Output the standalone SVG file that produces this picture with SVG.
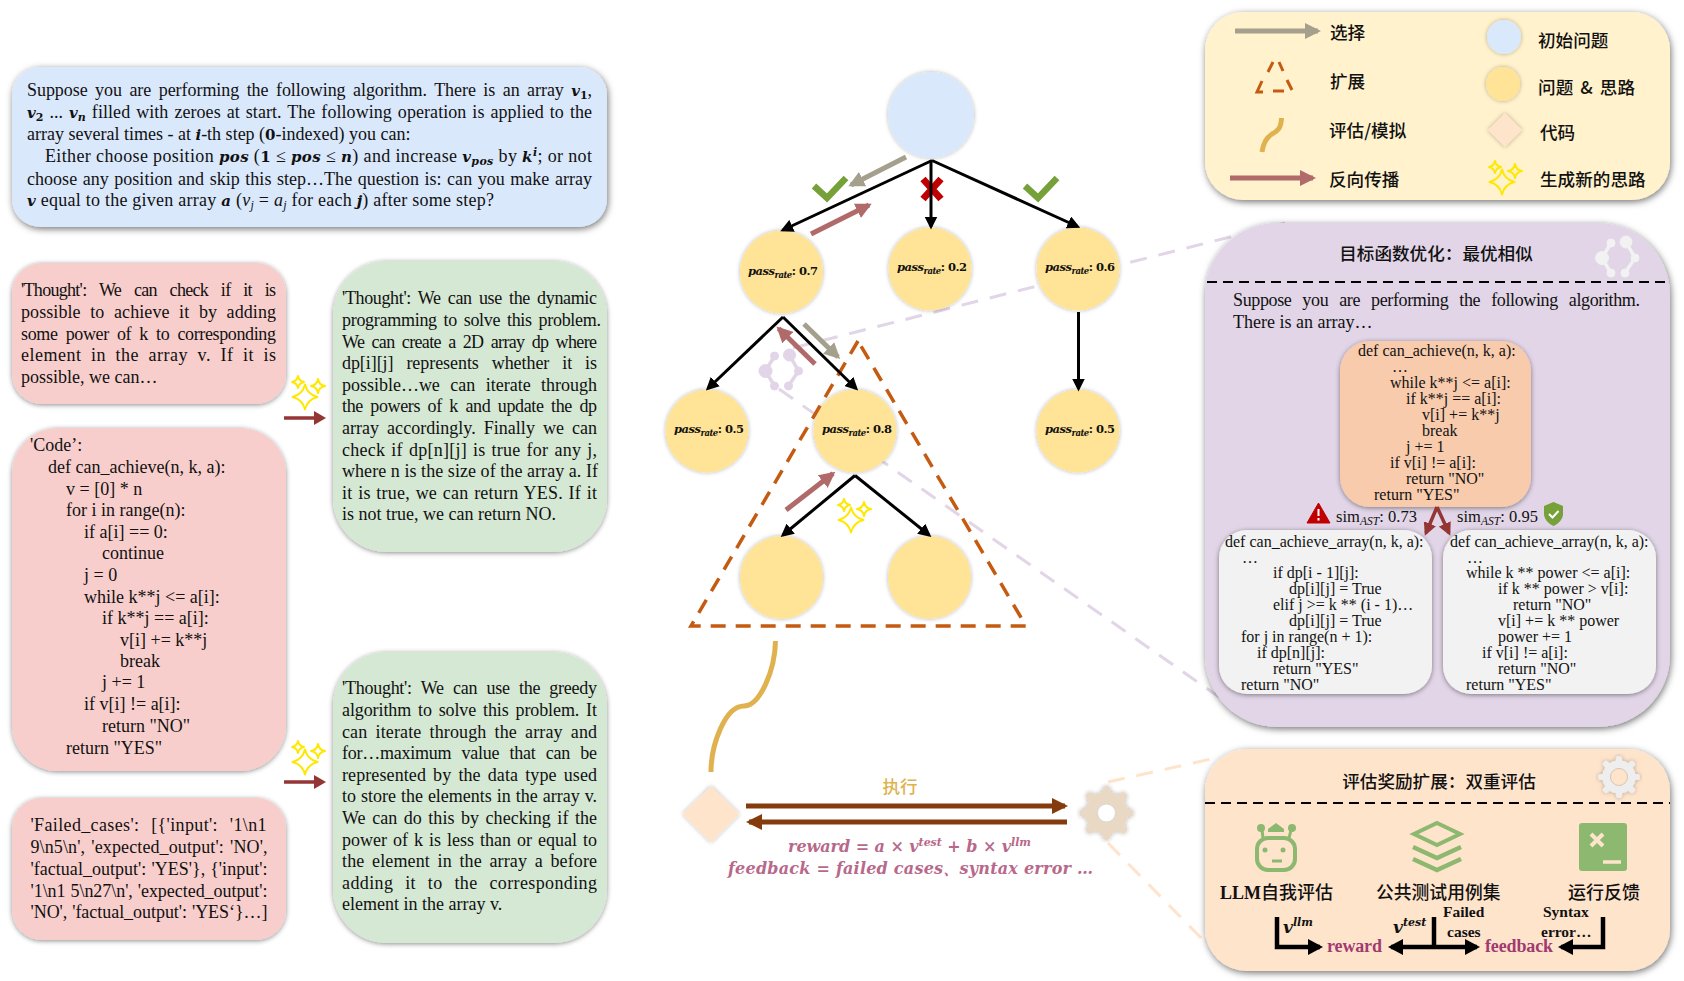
<svg xmlns="http://www.w3.org/2000/svg" xmlns:xlink="http://www.w3.org/1999/xlink" width="1684" height="981" viewBox="0 0 1684 981">
<style>
text{font-family:"Liberation Serif","Noto Sans CJK SC",serif;fill:#111;font-size:18px}
.m{font-family:"DejaVu Serif","Liberation Serif",serif;font-weight:700;font-style:italic;font-size:15px}
.mb{font-family:"DejaVu Serif","Liberation Serif",serif;font-weight:700;font-style:normal;font-size:15px}
.c{font-size:16px}
.cn{font-family:"Noto Sans CJK SC",sans-serif;font-size:17.6px;font-weight:500}
.pass{font-family:"DejaVu Serif",serif;font-weight:700;font-size:11.5px}
.pass .i{font-style:italic}
.pass .s{font-style:italic;font-size:8.5px}
.formula{font-family:"DejaVu Serif",serif;font-weight:700;font-style:italic;font-size:16px;fill:#B8688A}
.pk{font-weight:700;fill:#A03A70;font-size:18px}
.fb{font-weight:700;font-size:15.5px}
.edge{stroke:#000;stroke-width:3;fill:none;marker-end:url(#mBlack)}
.sel{stroke:#A59F8E;stroke-width:5;fill:none;marker-end:url(#mGrey)}
.back{stroke:#B06A6A;stroke-width:5;fill:none;marker-end:url(#mBack)}
.brown{stroke:#843C0C;stroke-width:5;fill:none;marker-end:url(#mBrown)}
.dark{stroke:#943634;stroke-width:3.5;fill:none;marker-end:url(#mDark)}
.flow{stroke:#000;stroke-width:4.5;fill:none;stroke-linejoin:miter;marker-end:url(#mFlow)}
.plain{stroke:#000;stroke-width:4.5;fill:none}
.tri{stroke:#C55A11;stroke-width:3.5;stroke-dasharray:15 10;fill:none}
.pd{stroke:#E1D5E7;stroke-width:3;stroke-dasharray:17 12;fill:none}
.od{stroke:#FFE4CC;stroke-width:3;stroke-dasharray:17 12;fill:none}
.sep{stroke:#000;stroke-width:2;stroke-dasharray:10 6;fill:none}
.curve{stroke:#E0B24F;stroke-width:5;fill:none}
.check{stroke:#76A038;stroke-width:6.5;fill:none}
.star{fill:none;stroke:#FFE800;stroke-width:2;stroke-linejoin:round}
.yes{fill:#FFE396;filter:url(#ns)}
.ic{fill:#8CB870}
.il{fill:none;stroke:#8CB870;stroke-width:4}
</style>
<defs>
<filter id="sh" x="-10%" y="-10%" width="120%" height="125%"><feDropShadow dx="1" dy="2" stdDeviation="3.5" flood-color="#000" flood-opacity=".55"/></filter>
<filter id="ss" x="-15%" y="-15%" width="130%" height="130%"><feDropShadow dx="0" dy="1" stdDeviation="2.5" flood-color="#000" flood-opacity=".45"/></filter>
<filter id="ns" x="-15%" y="-15%" width="130%" height="130%"><feDropShadow dx="0" dy="0" stdDeviation="2" flood-color="#000" flood-opacity=".3"/></filter>
<marker id="mBlack" markerUnits="userSpaceOnUse" markerWidth="13" markerHeight="13" refX="10" refY="6.5" orient="auto"><path d="M0 0L13 6.5L0 13z" fill="#000"/></marker>
<marker id="mGrey" markerUnits="userSpaceOnUse" markerWidth="16" markerHeight="16" refX="13" refY="8" orient="auto"><path d="M0 0L16 8L0 16z" fill="#A59F8E"/></marker>
<marker id="mBack" markerUnits="userSpaceOnUse" markerWidth="16" markerHeight="16" refX="13" refY="8" orient="auto"><path d="M0 0L16 8L0 16z" fill="#B06A6A"/></marker>
<marker id="mBrown" markerUnits="userSpaceOnUse" markerWidth="16" markerHeight="16" refX="13" refY="8" orient="auto"><path d="M0 0L16 8L0 16z" fill="#843C0C"/></marker>
<marker id="mDark" markerUnits="userSpaceOnUse" markerWidth="13" markerHeight="13" refX="10" refY="6.5" orient="auto"><path d="M0 0L13 6.5L0 13z" fill="#943634"/></marker>
<marker id="mFlow" markerUnits="userSpaceOnUse" markerWidth="15" markerHeight="16" refX="12" refY="8" orient="auto"><path d="M0 0L15 8L0 16z" fill="#000"/></marker>
<g id="spark">
<path class="star" d="M0-12.5Q2.5-2.5 12.5 0Q2.5 2.5 0 12.5Q-2.5 2.5-12.5 0Q-2.5-2.5 0-12.5Z"/>
<path class="star" d="M-7-21Q-6-16-1-15Q-6-14-7-9Q-8-14-13-15Q-8-16-7-21Z"/>
<path class="star" d="M13-18Q14-12 20-11Q14-10 13-4Q12-10 6-11Q12-12 13-18Z"/>
</g>
<g id="graph">
<path d="M-7-15L-16 0L-7 15M8-16L17 0L7 15" fill="none" stroke-width="3.5" stroke="inherit"/>
<circle cx="-16" cy="0" r="6.5"/><circle cx="8" cy="-16" r="6"/><circle cx="-7" cy="-15" r="4"/><circle cx="17" cy="0" r="4"/><circle cx="-7" cy="15" r="4"/><circle cx="7" cy="15" r="4"/>
</g>
<g id="gear">
<circle r="21"/>
<g stroke-width="8" stroke-linecap="round" stroke="inherit">
<path d="M0 0V-23M0 0V23M0 0H23M0 0H-23M0 0L16.5-16.5M0 0L16.5 16.5M0 0L-16.5 16.5M0 0L-16.5-16.5"/>
</g>
</g>
</defs>

<g id="guides">
<path class="pd" d="M793 348L1285 223"/>
<path class="pd" d="M779 389L1219 697"/>
<path class="od" d="M1108 782L1220 757"/>
<path class="od" d="M1108 843L1207 944"/>
</g>

<g id="problem">
<rect x="12" y="67" width="595" height="160" rx="28" fill="#DAE8FC" filter="url(#sh)"/>
<text x="27" y="96" textLength="565" word-spacing="3">Suppose you are performing the following algorithm. There is an array <tspan class="m">v</tspan><tspan class="mb" font-size="11" style="font-size:11px" dy="3">1</tspan><tspan dy="-3">,</tspan></text>
<text x="27" y="118" textLength="565" word-spacing="1.4"><tspan class="m">v</tspan><tspan class="mb" style="font-size:11px" dy="3">2</tspan><tspan dy="-3"> ... </tspan><tspan class="m">v</tspan><tspan class="m" style="font-size:11px" dy="3">n</tspan><tspan dy="-3"> filled with zeroes at start. The following operation is applied to the</tspan></text>
<text x="27" y="140">array several times - at <tspan class="m">i</tspan>-th step (<tspan class="mb">0</tspan>-indexed) you can:</text>
<text x="45" y="162" textLength="547">Either choose position <tspan class="m">pos</tspan> (<tspan class="mb">1</tspan> ≤ <tspan class="m">pos</tspan> ≤ <tspan class="m">n</tspan>) and increase <tspan class="m">v</tspan><tspan class="m" style="font-size:11px" dy="3">pos</tspan><tspan dy="-3"> by </tspan><tspan class="m">k</tspan><tspan class="m" style="font-size:11px" dy="-6">i</tspan><tspan dy="6">;  or not</tspan></text>
<text x="27" y="185" textLength="565" word-spacing="1">choose any position and skip this step…The question is: can you make array</text>
<text x="27" y="206" textLength="467"><tspan class="m">v</tspan> equal to the given array <tspan class="m">a</tspan> (<tspan font-style="italic">v</tspan><tspan font-style="italic" style="font-size:12px" dy="3">j</tspan><tspan dy="-3"> = </tspan><tspan font-style="italic">a</tspan><tspan font-style="italic" style="font-size:12px" dy="3">j</tspan><tspan dy="-3"> for each </tspan><tspan class="m">j</tspan>) after some step?</text>
</g>

<g id="thought-1">
<rect x="12" y="263" width="274" height="141" rx="30" fill="#F8CECC" filter="url(#ss)"/>
<text x="21" y="296" textLength="255" word-spacing="9">'Thought': We can check if it is</text>
<text x="21" y="318" textLength="255" word-spacing="5">possible to achieve it by adding</text>
<text x="21" y="340" textLength="255" word-spacing="4">some power of k to corresponding</text>
<text x="21" y="361" textLength="255" word-spacing="4.5">element in the array v. If it is</text>
<text x="21" y="383">possible, we can…</text>
</g>

<g id="code-1">
<rect x="12" y="428" width="274" height="343" rx="46" fill="#F8CECC" filter="url(#ss)"/>
<text x="30" y="451">'Code’:</text>
<text x="48" y="473">def can_achieve(n, k, a):</text>
<text x="66" y="495">v = [0] * n</text>
<text x="66" y="516">for i in range(n):</text>
<text x="84" y="538">if a[i] == 0:</text>
<text x="102" y="559">continue</text>
<text x="84" y="581">j = 0</text>
<text x="84" y="603">while k**j &lt;= a[i]:</text>
<text x="102" y="624">if k**j == a[i]:</text>
<text x="120" y="646">v[i] += k**j</text>
<text x="120" y="667">break</text>
<text x="102" y="688">j += 1</text>
<text x="84" y="710">if v[i] != a[i]:</text>
<text x="102" y="732">return "NO"</text>
<text x="66" y="754">return "YES"</text>
</g>

<g id="failed-cases">
<rect x="12" y="798" width="274" height="142" rx="30" fill="#F8CECC" filter="url(#ss)"/>
<text x="30.5" y="831" textLength="236" word-spacing="7">'Failed_cases': [{'input': '1\n1</text>
<text x="30.5" y="853" textLength="237" word-spacing="1.5">9\n5\n', 'expected_output': 'NO',</text>
<text x="30.5" y="875" textLength="237" word-spacing="0.5">'factual_output': 'YES'}, {'input':</text>
<text x="30.5" y="897" textLength="237" word-spacing="0.5">'1\n1 5\n27\n', 'expected_output':</text>
<text x="30.5" y="918" textLength="237" word-spacing="0.5">'NO', 'factual_output': 'YES‘}…]</text>
</g>

<g id="thought-2">
<rect x="333" y="261" width="274" height="291" rx="54" fill="#D5E8D4" filter="url(#ss)"/>
<text x="342" y="304" textLength="255" word-spacing="3">'Thought': We can use the dynamic</text>
<text x="342" y="326" textLength="259" word-spacing="2.5">programming to solve this problem.</text>
<text x="342" y="348" textLength="255" word-spacing="3.4">We can create a 2D array dp where</text>
<text x="342" y="369" textLength="255" word-spacing="8.5">dp[i][j] represents whether it is</text>
<text x="342" y="391" textLength="255" word-spacing="6">possible…we can iterate through</text>
<text x="342" y="412" textLength="255" word-spacing="3.4">the powers of k and update the dp</text>
<text x="342" y="434" textLength="255" word-spacing="3.5">array accordingly. Finally we can</text>
<text x="342" y="456" textLength="255" word-spacing="1.3">check if dp[n][j] is true for any j,</text>
<text x="342" y="477" textLength="256">where n is the size of the array a. If</text>
<text x="342" y="499" textLength="255" word-spacing="1">it is true, we can return YES. If it</text>
<text x="342" y="520">is not true, we can return NO.</text>
</g>

<g id="thought-3">
<rect x="333" y="652" width="274" height="291" rx="54" fill="#D5E8D4" filter="url(#ss)"/>
<text x="342" y="694" textLength="255" word-spacing="5">'Thought': We can use the greedy</text>
<text x="342" y="716" textLength="255" word-spacing="2.5">algorithm to solve this problem. It</text>
<text x="342" y="738" textLength="255" word-spacing="3.5">can iterate through the array and</text>
<text x="342" y="759" textLength="255" word-spacing="6">for…maximum value that can be</text>
<text x="342" y="781" textLength="255" word-spacing="2.5">represented by the data type used</text>
<text x="342" y="802" textLength="255" word-spacing="0.5">to store the elements in the array v.</text>
<text x="342" y="824" textLength="255" word-spacing="2">We can do this by checking if the</text>
<text x="342" y="846" textLength="255" word-spacing="1.5">power of k is less than or equal to</text>
<text x="342" y="867" textLength="255" word-spacing="3">the element in the array a before</text>
<text x="342" y="889" textLength="255" word-spacing="7">adding it to the corresponding</text>
<text x="342" y="910">element in the array v.</text>
</g>

<g id="spark-1"><use href="#spark" x="305" y="397"/></g>
<g id="spark-2"><use href="#spark" x="305" y="762"/></g>

<g id="root"><circle cx="931" cy="115" r="43" fill="#DAE8FC" filter="url(#ns)"/></g>
<g id="n1"><circle class="yes" cx="781.5" cy="272" r="41.5"/><text class="pass" x="748" y="275" textLength="70"><tspan class="i">pass</tspan><tspan class="s" dy="3">rate</tspan><tspan dy="-3">: 0.7</tspan></text></g>
<g id="n2"><circle class="yes" cx="930" cy="269" r="41.5"/><text class="pass" x="897" y="271" textLength="70"><tspan class="i">pass</tspan><tspan class="s" dy="3">rate</tspan><tspan dy="-3">: 0.2</tspan></text></g>
<g id="n3"><circle class="yes" cx="1078" cy="269" r="41.5"/><text class="pass" x="1045" y="271" textLength="70"><tspan class="i">pass</tspan><tspan class="s" dy="3">rate</tspan><tspan dy="-3">: 0.6</tspan></text></g>
<g id="n4"><circle class="yes" cx="707" cy="431" r="41.5"/><text class="pass" x="674" y="433" textLength="70"><tspan class="i">pass</tspan><tspan class="s" dy="3">rate</tspan><tspan dy="-3">: 0.5</tspan></text></g>
<g id="n5"><circle class="yes" cx="855" cy="431" r="41.5"/><text class="pass" x="822" y="433" textLength="70"><tspan class="i">pass</tspan><tspan class="s" dy="3">rate</tspan><tspan dy="-3">: 0.8</tspan></text></g>
<g id="n6"><circle class="yes" cx="1078" cy="431" r="41.5"/><text class="pass" x="1045" y="433" textLength="70"><tspan class="i">pass</tspan><tspan class="s" dy="3">rate</tspan><tspan dy="-3">: 0.5</tspan></text></g>
<g id="n7"><circle class="yes" cx="781.5" cy="577.5" r="41.5"/></g>
<g id="n8"><circle class="yes" cx="929.5" cy="577.5" r="41.5"/></g>
<g id="expand-triangle"><path class="tri" d="M858 341L691 626H1026Z"/></g>
<g id="graph-icon" fill="#E1D5E7" stroke="#E1D5E7"><use href="#graph" x="781.5" y="371"/></g>
<g id="spark-3"><use href="#spark" x="851" y="520"/></g>
<g id="marks">
<path class="check" d="M814 186L827 198L846 178"/>
<path class="check" d="M1025 186L1038 198L1057 178"/>
<path d="M923 179L941 199M941 179L923 199" stroke="#C00000" stroke-width="7" fill="none"/>
</g>

<g id="connectors">
<path class="edge" d="M932 160.5L783 230"/>
<path class="edge" d="M931 160.5V226.5"/>
<path class="edge" d="M932 160.5L1077.5 226.5"/>
<path class="edge" d="M783 317L708 388.5"/>
<path class="edge" d="M783 317L856 388.5"/>
<path class="edge" d="M1078.5 312V388.5"/>
<path class="edge" d="M855 475.5L783 535"/>
<path class="edge" d="M855 475.5L929 535"/>
<path class="sel" d="M906 157L851 185"/>
<path class="sel" d="M804 324L838 357"/>
<path class="back" d="M811 234L869 205"/>
<path class="back" d="M815 364L778.6 328.5"/>
<path class="back" d="M786 510L833 473.6"/>
<path class="curve" d="M775.5 641C775 670 760 706 744 706C725 706 711 745 711 772"/>
<path class="brown" d="M746 806H1065"/>
<path class="brown" d="M1067 822H749"/>
</g>

<g id="code-node"><path d="M711 786L739.5 814L711 842.5L682.5 814Z" fill="#FFE4CC" filter="url(#ns)"/></g>
<g id="evaluator" fill="#E9D8C4" stroke="#E9D8C4" filter="url(#ns)"><use href="#gear" x="1106.5" y="813"/><circle cx="1106.5" cy="813" r="9" fill="#fff" stroke="#d8d8d8" stroke-width="1"/></g>
<g id="execute">
<text x="900" y="793" text-anchor="middle" class="cn" style="fill:#E0B24F">执行</text>
<text class="formula" x="788" y="852" textLength="243">reward = a × v<tspan style="font-size:11px" dy="-6">test</tspan><tspan dy="6"> + b × v</tspan><tspan style="font-size:11px" dy="-6">llm</tspan></text>
<text class="formula" x="728" y="874" textLength="365">feedback = failed cases、syntax error …</text>
</g>

<g id="legend">
<rect x="1205" y="12" width="465" height="188" rx="38" fill="#FFF2CC" filter="url(#sh)"/>
<path class="sel" d="M1235 31H1318"/>
<text class="cn" x="1330" y="39">选择</text>
<path d="M1268 72L1273 62M1279 62L1283 71M1262 81L1257 92H1263M1287 80L1292 90M1273 91H1284" stroke="#C55A11" stroke-width="3" fill="none"/>
<text class="cn" x="1330" y="88">扩展</text>
<path class="curve" d="M1281.5 118C1281 128 1278 131 1272 134C1266 138 1263 144 1262 152"/>
<text class="cn" x="1329" y="137">评估/模拟</text>
<path class="back" d="M1230 178H1313"/>
<text class="cn" x="1329" y="186">反向传播</text>
<circle cx="1504" cy="37" r="17" fill="#DAE8FC" filter="url(#ns)"/>
<text class="cn" x="1538" y="47">初始问题</text>
<circle cx="1503" cy="84" r="17" fill="#FFE396" filter="url(#ns)"/>
<text class="cn" x="1538" y="94" textLength="97" word-spacing="3">问题 &amp; 思路</text>
<path d="M1505 113L1522 130L1505 147L1488 130Z" fill="#FFE4CC" filter="url(#ns)"/>
<text class="cn" x="1540" y="139">代码</text>
<use href="#spark" x="1502" y="182"/>
<text class="cn" x="1540" y="186">生成新的思路</text>
</g>

<g id="similarity-panel">
<rect x="1205" y="223" width="465" height="504" rx="72" fill="#E1D5E7" filter="url(#sh)"/>
<text class="cn" x="1436" y="260" text-anchor="middle">目标函数优化：最优相似</text>
<path class="sep" d="M1207 282H1668"/>
<g fill="#F2F2F2" stroke="#F2F2F2"><use href="#graph" x="1618" y="258"/></g>
<text x="1233" y="306" textLength="407" word-spacing="6.8">Suppose you are performing the following algorithm.</text>
<text x="1233" y="328">There is an array…</text>
</g>

<g id="target-code">
<rect x="1340" y="341" width="191" height="166" rx="30" fill="#F8CBAD" filter="url(#ss)"/>
<text class="c" x="1358" y="356">def can_achieve(n, k, a):</text>
<text class="c" x="1392" y="372">…</text>
<text class="c" x="1390" y="388">while k**j &lt;= a[i]:</text>
<text class="c" x="1406" y="404">if k**j == a[i]:</text>
<text class="c" x="1422" y="420">v[i] += k**j</text>
<text class="c" x="1422" y="436">break</text>
<text class="c" x="1406" y="452">j += 1</text>
<text class="c" x="1390" y="468">if v[i] != a[i]:</text>
<text class="c" x="1406" y="484">return "NO"</text>
<text class="c" x="1374" y="500">return "YES"</text>
</g>

<g id="similarity-arrows">
<path class="dark" d="M1437 507L1426 533"/>
<path class="dark" d="M1437 507L1449 533"/>
</g>

<g id="sim-low">
<path d="M1318.5 503L1330 523H1307Z" fill="#C00000" stroke="#C00000" stroke-width="1" stroke-linejoin="round"/>
<path d="M1318.5 509V516M1318.5 518V520.5" stroke="#fff" stroke-width="2" fill="none"/>
<text x="1336" y="522" textLength="81" style="font-size:16.5px">sim<tspan font-style="italic" style="font-size:11.5px" dy="3">AST</tspan><tspan dy="-3">: 0.73</tspan></text>
</g>
<g id="sim-high">
<text x="1457" y="522" textLength="81" style="font-size:16.5px">sim<tspan font-style="italic" style="font-size:11.5px" dy="3">AST</tspan><tspan dy="-3">: 0.95</tspan></text>
<path d="M1553.5 502L1563 506V515Q1562 522 1553.5 526Q1545 522 1544 515V506Z" fill="#76A038"/>
<path d="M1549 514L1552.5 517.5L1558.5 511" stroke="#fff" stroke-width="2" fill="none"/>
</g>

<g id="candidate-a">
<rect x="1219" y="530" width="213" height="164" rx="28" fill="#F2F2F2" filter="url(#ss)"/>
<text class="c" x="1225" y="547">def can_achieve_array(n, k, a):</text>
<text class="c" x="1242" y="563">…</text>
<text class="c" x="1273" y="578">if dp[i - 1][j]:</text>
<text class="c" x="1289" y="594">dp[i][j] = True</text>
<text class="c" x="1273" y="610">elif j &gt;= k ** (i - 1)…</text>
<text class="c" x="1289" y="626">dp[i][j] = True</text>
<text class="c" x="1241" y="642">for j in range(n + 1):</text>
<text class="c" x="1257" y="658">if dp[n][j]:</text>
<text class="c" x="1273" y="674">return "YES"</text>
<text class="c" x="1241" y="690">return "NO"</text>
</g>

<g id="candidate-b">
<rect x="1443" y="530" width="213" height="164" rx="28" fill="#F2F2F2" filter="url(#ss)"/>
<text class="c" x="1450" y="547">def can_achieve_array(n, k, a):</text>
<text class="c" x="1467" y="563">…</text>
<text class="c" x="1466" y="578">while k ** power &lt;= a[i]:</text>
<text class="c" x="1498" y="594">if k ** power &gt; v[i]:</text>
<text class="c" x="1513" y="610">return "NO"</text>
<text class="c" x="1498" y="626">v[i] += k ** power</text>
<text class="c" x="1498" y="642">power += 1</text>
<text class="c" x="1482" y="658">if v[i] != a[i]:</text>
<text class="c" x="1498" y="674">return "NO"</text>
<text class="c" x="1466" y="690">return "YES"</text>
</g>

<g id="evaluation-panel">
<rect x="1205" y="749" width="465" height="222" rx="42" fill="#FFE4CC" filter="url(#sh)"/>
<text class="cn" x="1439" y="788" text-anchor="middle">评估奖励扩展：双重评估</text>
<path class="sep" d="M1205 803H1670"/>
<g fill="#EEEEEE" stroke="#EEEEEE" filter="url(#ns)"><use href="#gear" transform="translate(1619 777) scale(.78)"/><circle cx="1619" cy="777" r="8.5" fill="#FFE4CC" stroke="#d9c4b0" stroke-width="1"/></g>
</g>

<g id="llm-eval">
<rect x="1257" y="838" width="38" height="32" rx="11" class="il"/>
<path d="M1263 838L1262 830M1289 838L1291 830" class="il" style="stroke-width:3"/>
<circle cx="1261" cy="828" r="4" class="ic"/><circle cx="1292" cy="828" r="4" class="ic"/>
<path d="M1268 829L1276 823L1284 829V832H1268Z" class="ic"/>
<circle cx="1265" cy="850" r="2.5" class="ic"/><circle cx="1283" cy="850" r="2.5" class="ic"/>
<path d="M1272 861H1282" class="il" style="stroke-width:3"/>
<text x="1220" y="899" style="font-size:18px;font-weight:700" textLength="113">LLM<tspan font-family="Noto Sans CJK SC" font-weight="500">自我评估</tspan></text>
</g>
<g id="test-eval">
<path d="M1437 823L1460 834L1437 845L1414 834Z" class="il"/>
<path d="M1413 847L1437 858L1461 847M1413 859L1437 870L1461 859" class="il" style="stroke-width:4.5"/>
<text class="cn" x="1376" y="899" style="font-size:17.8px">公共测试用例集</text>
</g>
<g id="run-eval">
<rect x="1579" y="823" width="48" height="48" rx="3" class="ic"/>
<path d="M1591 834L1603 846M1603 834L1591 846" stroke="#FFE4CC" stroke-width="4" fill="none"/>
<path d="M1603 862H1621" stroke="#FFE4CC" stroke-width="3.5" fill="none"/>
<text class="cn" x="1568" y="899" style="font-size:18px">运行反馈</text>
</g>

<g id="evaluation-flow">
<path class="flow" d="M1277 917V947H1320"/>
<path class="plain" d="M1434 917V947"/>
<path class="flow" d="M1434 947H1391"/>
<path class="flow" d="M1434 947H1477"/>
<path class="flow" d="M1603 917V947H1561"/>
<text x="1283" y="933" class="m" style="font-size:17px">v<tspan style="font-size:11px" dy="-7">llm</tspan></text>
<text x="1393" y="933" class="m" style="font-size:17px">v<tspan style="font-size:11px" dy="-7">test</tspan></text>
<text class="fb" x="1443" y="917">Failed</text>
<text class="fb" x="1447" y="937">cases</text>
<text class="fb" x="1543" y="917">Syntax</text>
<text class="fb" x="1541" y="937">error…</text>
<text class="pk" x="1327" y="952" textLength="55">reward</text>
<text class="pk" x="1485" y="952" textLength="68">feedback</text>
</g>

<g id="side-arrows">
<path d="M284 418H316" stroke="#943634" stroke-width="3.5" fill="none"/><path d="M314 411L326 418L314 425Z" fill="#943634"/>
<path d="M284 782H316" stroke="#943634" stroke-width="3.5" fill="none"/><path d="M314 775L326 782L314 789Z" fill="#943634"/>
</g>
</svg>
